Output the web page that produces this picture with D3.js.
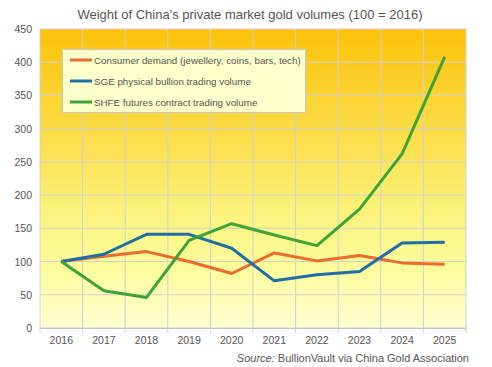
<!DOCTYPE html>
<html><head><meta charset="utf-8">
<script src="https://cdn.jsdelivr.net/npm/d3@7"></script>
<style>body{margin:0;background:#fff;}svg{display:block;font-family:"Liberation Sans",Arial,sans-serif;}</style>
</head><body><svg id="c" width="492" height="367"></svg>
<script>
const years = ["2016","2017","2018","2019","2020","2021","2022","2023","2024","2025"];
const consumer = [100,108,115,100,82,113,101,109,98,96];
const sge = [100,111,141,141,120,71,80,85,128,129];
const shfe = [100,56,46,132,157,140,124,179,262,408];
const yTicks = [0,50,100,150,200,250,300,350,400,450];
const seriesNames = ["Consumer demand (jewellery, coins, bars, tech)","SGE physical bullion trading volume","SHFE futures contract trading volume"];
const colors = ["#ec6b2d","#1f6ea6","#3ea535"];

const svg = d3.select("#c");
const L=40,R=466,T=29,B=328;
const x = d3.scaleBand().domain(years).range([L,R]);
const y = d3.scaleLinear().domain([0,450]).range([B,T]);

const defs = svg.append("defs");
const g = defs.append("linearGradient").attr("id","bg").attr("x1",0).attr("y1",0).attr("x2",0).attr("y2",1);
[[0,"#fdc20a"],[0.35,"#fbdd48"],[0.6,"#fbf27a"],[0.8,"#fcfc9c"],[1,"#fefed2"]].forEach(s=>g.append("stop").attr("offset",s[0]).attr("stop-color",s[1]));
svg.append("rect").attr("x",L).attr("y",T).attr("width",R-L).attr("height",B-T).attr("fill","url(#bg)");

// grid
svg.append("g").selectAll("line").data(yTicks).join("line")
  .attr("x1",L).attr("x2",R).attr("y1",d=>y(d)).attr("y2",d=>y(d)).attr("stroke","#d0d0d0").attr("stroke-width",1);
const bounds = years.map(d=>x(d)).concat([R]);
svg.append("g").selectAll("line").data(bounds).join("line")
  .attr("x1",d=>d).attr("x2",d=>d).attr("y1",T).attr("y2",B+5).attr("stroke","#d0d0d0").attr("stroke-width",1);

// axes labels
svg.append("g").selectAll("text").data(yTicks).join("text")
  .attr("x",L-8).attr("y",d=>y(d)+4).attr("text-anchor","end").attr("font-size",10.5).attr("fill","#555").text(d=>d);
svg.append("g").selectAll("text").data(years).join("text")
  .attr("x",d=>x(d)+x.bandwidth()/2).attr("y",B+16).attr("text-anchor","middle").attr("font-size",10.5).attr("fill","#555").text(d=>d);
svg.append("line").attr("x1",L).attr("x2",R).attr("y1",B+0.5).attr("y2",B+0.5).attr("stroke","#c4c4c4");

// lines
const line = d3.line().x((d,i)=>x(years[i])+x.bandwidth()/2).y(d=>y(d));
[consumer,sge,shfe].forEach((s,i)=>{
  svg.append("path").datum(s).attr("d",line).attr("fill","none").attr("stroke",colors[i]).attr("stroke-width",3).attr("stroke-linejoin","round");
});

// legend
const lg = svg.append("g");
lg.append("rect").attr("x",62.5).attr("y",49.5).attr("width",243).attr("height",63).attr("fill","#ffffcc").attr("stroke","#c8c8c8");
seriesNames.forEach((n,i)=>{
  const yy = 60 + i*21;
  lg.append("line").attr("x1",70).attr("x2",92).attr("y1",yy).attr("y2",yy).attr("stroke",colors[i]).attr("stroke-width",3);
  lg.append("text").attr("x",94).attr("y",yy+3.5).attr("font-size",9.8).attr("fill","#555").text(n);
});

// title
svg.append("text").attr("x",250).attr("y",19).attr("text-anchor","middle").attr("font-size",13).attr("fill","#555").text("Weight of China's private market gold volumes  (100 = 2016)");

// source
const st = svg.append("text").attr("x",469).attr("y",362).attr("text-anchor","end").attr("font-size",11).attr("fill","#555");
st.append("tspan").attr("font-style","italic").text("Source:");
st.append("tspan").text(" BullionVault via China Gold Association");
</script></body></html>
